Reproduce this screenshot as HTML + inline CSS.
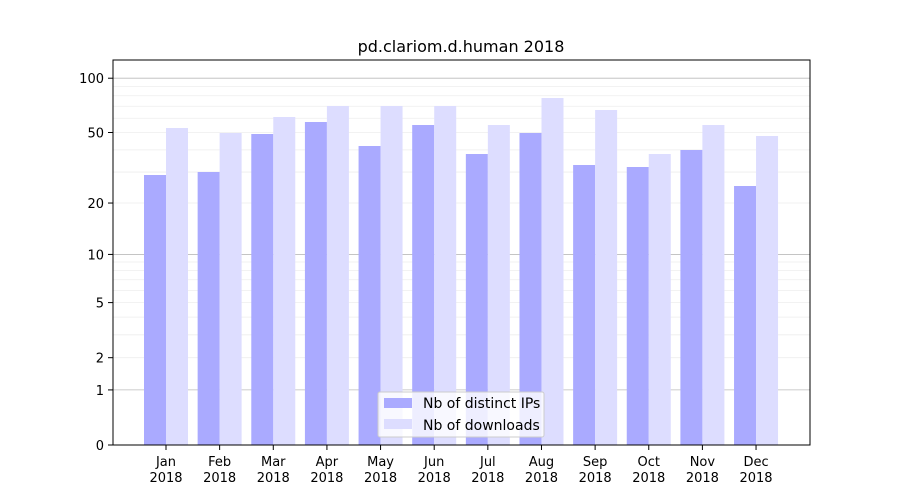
<!DOCTYPE html>
<html><head><meta charset="utf-8"><style>body{margin:0;background:#fff}svg{display:block}text{font-family:"DejaVu Sans","Liberation Sans",sans-serif;fill:#000}</style></head>
<body>
<svg id="s" width="900" height="500" xmlns="http://www.w3.org/2000/svg">
<rect width="900" height="500" fill="#fff"/>
<g id="grid"></g><g id="bars"></g>
<rect x="113" y="60" width="697" height="385" fill="none" stroke="#000" stroke-width="1"/>
<g id="ticks"></g>
<text x="461" y="52" font-size="16" text-anchor="middle">pd.clariom.d.human 2018</text>
<g>
<rect x="378" y="392" width="166" height="45" rx="2" fill="#fff" fill-opacity="0.8" stroke="#ccc"/>
<rect x="384" y="398" width="28" height="10" fill="#aaaaff"/>
<text x="423" y="408" font-size="14">Nb of distinct IPs</text>
<rect x="384" y="419" width="28" height="10" fill="#ddddff"/>
<text x="423" y="430" font-size="14">Nb of downloads</text>
</g>
</svg>
<script>
const NS="http://www.w3.org/2000/svg";
function el(p,t,a,txt){const e=document.createElementNS(NS,t);for(const k in a)e.setAttribute(k,a[k]);if(txt!==undefined)e.textContent=txt;document.getElementById(p).appendChild(e);}
const Y=v=>445-183*Math.log10(v+1);
[2,3,4,5,6,7,8,9,20,30,40,50,60,70,80,90].forEach(v=>el("grid","line",{x1:113,x2:810,y1:Y(v),y2:Y(v),stroke:"#eee","stroke-width":0.8}));
[1,10,100].forEach(v=>el("grid","line",{x1:113,x2:810,y1:Y(v),y2:Y(v),stroke:"#bbb","stroke-width":0.8}));
[0,1,2,5,10,20,50,100].forEach(v=>{const y=Y(v);el("ticks","line",{x1:108,x2:113,y1:y,y2:y,stroke:"#000"});el("ticks","text",{x:104,y:y+5,"font-size":13,"text-anchor":"end"},v);});
const d=[175,172,134,122,146,125,154,133,165,167,150,186];
const w=[128,133,117,106,106,106,125,98,110,154,125,136];
const m=["Jan","Feb","Mar","Apr","May","Jun","Jul","Aug","Sep","Oct","Nov","Dec"];
for(let i=0;i<12;i++){const c=166+i*53.64;
el("bars","rect",{x:c-22,y:d[i],width:22,height:445-d[i],fill:"#aaaaff"});
el("bars","rect",{x:c,y:w[i],width:22,height:445-w[i],fill:"#ddddff"});
el("ticks","line",{x1:c,x2:c,y1:445,y2:450,stroke:"#000"});
el("ticks","text",{x:c,y:466,"font-size":13,"text-anchor":"middle"},m[i]);
el("ticks","text",{x:c,y:482,"font-size":13,"text-anchor":"middle"},"2018");}
</script>
</body></html>
